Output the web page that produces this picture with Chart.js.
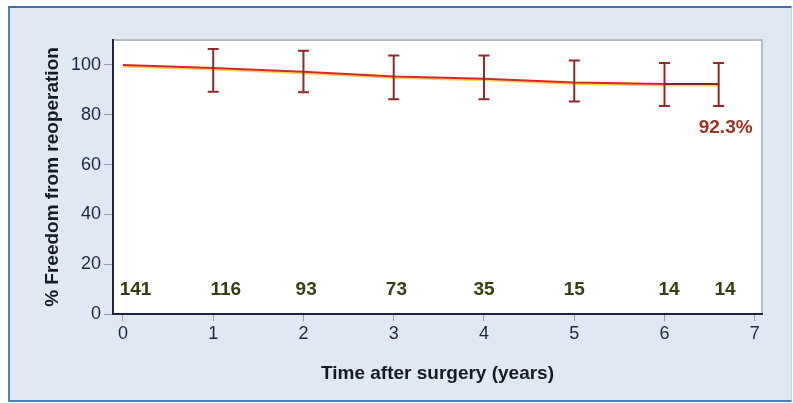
<!DOCTYPE html>
<html>
<head>
<meta charset="utf-8">
<script src="https://cdn.jsdelivr.net/npm/chart.js@4/dist/chart.umd.min.js"></script>
<style>
  html, body { margin: 0; padding: 0; background: #ffffff; width: 793px; height: 403px; overflow: hidden; }
  #frame {
    position: absolute; left: 8px; top: 6px; width: 781px; height: 392px;
    background: #dfe8f3;
    border-top: 2px solid #3f6fae;
    border-left: 2px solid #4b80c2;
    border-bottom: 2px solid #4b80c2;
    border-right: 1px solid #c6d4e4;
  }
  #wrap { position: absolute; left: 0; top: 0; width: 793px; height: 403px; }
</style>
</head>
<body>
<div id="frame"></div>
<div id="wrap"><canvas id="c" width="793" height="403"></canvas></div>
<script>
// ---- data ----
const years      = [0, 1, 2, 3, 4, 5, 6, 6.6];
const freedom    = [100, 98.8, 97.3, 95.3, 94.4, 92.9, 92.3, 92.3];
const upperCI    = [null, 106.4, 105.7, 103.8, 103.8, 101.8, 100.8, 100.8];
const lowerCI    = [null, 89.2, 89.0, 86.2, 86.2, 85.3, 83.5, 83.5];
const atRisk     = ['141', '116', '93', '73', '35', '15', '14', '14'];
const atRiskX    = [0.14, 1.14, 2.03, 3.03, 4.0, 5.0, 6.05, 6.67];
const atRiskY    = 9.6;
const finalLabel = '92.3%';
const yTicks     = [0, 20, 40, 60, 80, 100];
const xTicks     = [0, 1, 2, 3, 4, 5, 6, 7];

const FONT = "'Liberation Sans', Arial, sans-serif";
const NAVY = '#1c2644';

const plotFrame = {
  id: 'plotFrame',
  beforeDraw(chart) {
    const {ctx, chartArea: a} = chart;
    ctx.save();
    ctx.fillStyle = '#ffffff';
    ctx.fillRect(a.left, a.top, a.right - a.left, a.bottom - a.top);
    ctx.strokeStyle = '#b4bcc7';
    ctx.lineWidth = 2;
    ctx.beginPath();
    ctx.moveTo(a.left, a.top);
    ctx.lineTo(a.right, a.top);
    ctx.lineTo(a.right, a.bottom);
    ctx.stroke();
    ctx.restore();
  }
};

const lineShadow = {
  id: 'lineShadow',
  beforeDatasetDraw(chart) {
    const ctx = chart.ctx;
    ctx.save();
    ctx.shadowColor = 'rgba(245,205,50,0.85)';
    ctx.shadowOffsetY = 1.5;
    ctx.shadowBlur = 0.5;
  },
  afterDatasetDraw(chart) {
    chart.ctx.restore();
  }
};

const errorBars = {
  id: 'errorBars',
  afterDatasetsDraw(chart) {
    const {ctx, scales: {x, y}} = chart;
    ctx.save();
    ctx.strokeStyle = '#93282a';
    ctx.lineWidth = 2;
    for (let i = 0; i < years.length; i++) {
      if (upperCI[i] == null) continue;
      const px = x.getPixelForValue(years[i]);
      const pt = y.getPixelForValue(upperCI[i]);
      const pb = y.getPixelForValue(lowerCI[i]);
      ctx.beginPath();
      ctx.moveTo(px, pt); ctx.lineTo(px, pb);
      ctx.moveTo(px - 5.5, pt); ctx.lineTo(px + 5.5, pt);
      ctx.moveTo(px - 5.5, pb); ctx.lineTo(px + 5.5, pb);
      ctx.stroke();
    }
    ctx.restore();
  }
};

const textLabels = {
  id: 'textLabels',
  afterDraw(chart) {
    const {ctx, scales: {x, y}} = chart;
    ctx.save();
    ctx.textAlign = 'center';
    ctx.textBaseline = 'middle';
    ctx.font = 'bold 19px ' + FONT;
    ctx.fillStyle = '#34400f';
    for (let i = 0; i < atRisk.length; i++) {
      ctx.fillText(atRisk[i], x.getPixelForValue(atRiskX[i]), y.getPixelForValue(atRiskY));
    }
    const last = years.length - 1;
    ctx.font = 'bold 19px ' + FONT;
    ctx.fillStyle = '#a3301f';
    ctx.fillText(finalLabel, x.getPixelForValue(years[last]) + 7, y.getPixelForValue(lowerCI[last]) + 22);
    ctx.restore();
  }
};

new Chart(document.getElementById('c'), {
  type: 'line',
  data: {
    datasets: [{
      data: years.map((v, i) => ({x: v, y: freedom[i]})),
      borderColor: '#d6282a',
      borderWidth: 2,
      pointRadius: 0,
      tension: 0,
      fill: false,
      segment: {
        borderColor: c => c.p0DataIndex === years.length - 2 ? '#7c2a24' : '#d6282a'
      }
    }]
  },
  plugins: [plotFrame, lineShadow, errorBars, textLabels],
  options: {
    responsive: false,
    animation: false,
    devicePixelRatio: 1,
    layout: { padding: { left: 0, top: 40, right: 31, bottom: 0 } },
    plugins: { legend: { display: false }, tooltip: { enabled: false } },
    scales: {
      x: {
        type: 'linear',
        min: -0.11, max: 7.08,
        afterFit(s) { s.height = 89; },
        afterBuildTicks(s) { s.ticks = xTicks.map(v => ({value: v})); },
        ticks: { color: NAVY, font: { family: FONT, size: 18 }, padding: 2 },
        grid: { drawOnChartArea: false, drawTicks: true, tickLength: 7, color: '#9aa0aa' },
        border: { display: true, color: NAVY, width: 2 },
        title: {
          display: true, text: 'Time after surgery (years)', color: '#151a26',
          font: { family: FONT, size: 19, weight: 'bold' },
          padding: { top: 0, bottom: 18 }
        }
      },
      y: {
        type: 'linear',
        min: 0, max: 110,
        afterFit(s) { s.width = 113; },
        afterBuildTicks(s) { s.ticks = yTicks.map(v => ({value: v})); },
        ticks: { color: NAVY, font: { family: FONT, size: 18 }, padding: 3 },
        grid: { drawOnChartArea: false, drawTicks: true, tickLength: 9, color: '#9aa0aa' },
        border: { display: true, color: NAVY, width: 2 },
        title: {
          display: true, text: '% Freedom from reoperation', color: '#151a26',
          font: { family: FONT, size: 19, weight: 'bold' },
          padding: { top: 41, bottom: 0 }
        }
      }
    }
  }
});
</script>
</body>
</html>
